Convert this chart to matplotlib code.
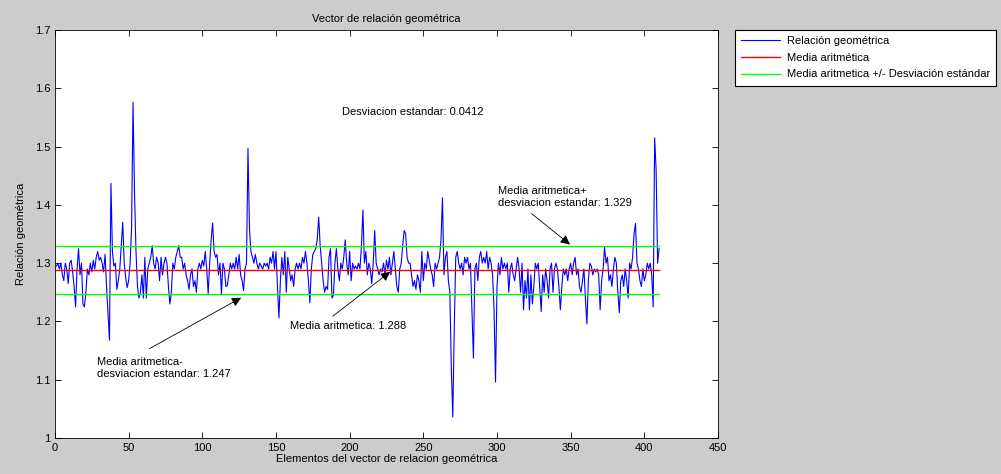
import matplotlib.pyplot as plt
import numpy as np

# relacion geometrica, elementos 1..410
rel_geom = [
    1.295, 1.30, 1.29, 1.30, 1.28, 1.27, 1.30, 1.29, 1.265, 1.30,
    1.305, 1.285, 1.26, 1.225, 1.29, 1.325, 1.28, 1.30, 1.23, 1.225,
    1.25, 1.29, 1.28, 1.30, 1.285, 1.305, 1.29, 1.31, 1.32, 1.305,
    1.31, 1.30, 1.285, 1.315, 1.26, 1.215, 1.168, 1.437, 1.32, 1.295,
    1.30, 1.255, 1.27, 1.29, 1.33, 1.37, 1.30, 1.275, 1.258, 1.27,
    1.30, 1.36, 1.576, 1.42, 1.32, 1.26, 1.24, 1.25, 1.28, 1.24,
    1.31, 1.24, 1.29, 1.30, 1.31, 1.33, 1.30, 1.29, 1.31, 1.30,
    1.27, 1.31, 1.28, 1.30, 1.31, 1.30, 1.26, 1.23, 1.25, 1.30,
    1.29, 1.31, 1.32, 1.33, 1.31, 1.31, 1.29, 1.30, 1.28, 1.27,
    1.255, 1.28, 1.29, 1.26, 1.27, 1.25, 1.29, 1.30, 1.29, 1.305,
    1.295, 1.32, 1.29, 1.248, 1.30, 1.34, 1.369, 1.32, 1.31, 1.315,
    1.28, 1.30, 1.247, 1.30, 1.29, 1.26, 1.262, 1.28, 1.30, 1.29,
    1.30, 1.29, 1.31, 1.29, 1.315, 1.28, 1.27, 1.253, 1.29, 1.30,
    1.497, 1.36, 1.32, 1.31, 1.30, 1.315, 1.30, 1.29, 1.30, 1.295,
    1.29, 1.30, 1.295, 1.30, 1.29, 1.31, 1.30, 1.32, 1.29, 1.32,
    1.26, 1.206, 1.27, 1.31, 1.28, 1.32, 1.25, 1.31, 1.29, 1.27,
    1.28, 1.26, 1.29, 1.30, 1.29, 1.30, 1.29, 1.31, 1.30, 1.32,
    1.30, 1.27, 1.232, 1.29, 1.315, 1.32, 1.325, 1.34, 1.379, 1.33,
    1.30, 1.27, 1.25, 1.26, 1.255, 1.31, 1.325, 1.24, 1.245, 1.30,
    1.325, 1.29, 1.27, 1.30, 1.29, 1.31, 1.34, 1.30, 1.28, 1.32,
    1.27, 1.30, 1.29, 1.295, 1.29, 1.30, 1.29, 1.33, 1.391, 1.30,
    1.32, 1.28, 1.30, 1.29, 1.265, 1.30, 1.356, 1.30, 1.29, 1.28,
    1.29, 1.285, 1.30, 1.28, 1.305, 1.29, 1.31, 1.28, 1.30, 1.32,
    1.29, 1.26, 1.25, 1.29, 1.30, 1.33, 1.356, 1.35, 1.31, 1.30,
    1.30, 1.28, 1.26, 1.27, 1.255, 1.28, 1.27, 1.25, 1.32, 1.27,
    1.30, 1.29, 1.32, 1.305, 1.29, 1.28, 1.26, 1.30, 1.29, 1.30,
    1.31, 1.34, 1.412, 1.28, 1.31, 1.32, 1.27, 1.25, 1.12, 1.036,
    1.19, 1.31, 1.32, 1.30, 1.29, 1.30, 1.28, 1.31, 1.30, 1.31,
    1.29, 1.30, 1.22, 1.137, 1.29, 1.30, 1.27, 1.31, 1.32, 1.30,
    1.31, 1.30, 1.32, 1.29, 1.31, 1.30, 1.28, 1.22, 1.096, 1.26,
    1.30, 1.28, 1.31, 1.29, 1.30, 1.29, 1.30, 1.25, 1.29, 1.30,
    1.28, 1.27, 1.29, 1.31, 1.29, 1.25, 1.30, 1.22, 1.27, 1.24,
    1.29, 1.22, 1.28, 1.23, 1.26, 1.30, 1.29, 1.30, 1.26, 1.217,
    1.28, 1.25, 1.29, 1.27, 1.24, 1.29, 1.30, 1.25, 1.29, 1.30,
    1.29, 1.26, 1.22, 1.26, 1.29, 1.28, 1.29, 1.27, 1.29, 1.30,
    1.28, 1.30, 1.31, 1.28, 1.29, 1.26, 1.25, 1.27, 1.29, 1.24,
    1.196, 1.27, 1.30, 1.295, 1.28, 1.29, 1.285, 1.29, 1.28, 1.22,
    1.27, 1.29, 1.327, 1.30, 1.31, 1.27, 1.28, 1.26, 1.29, 1.31,
    1.30, 1.25, 1.215, 1.27, 1.28, 1.26, 1.29, 1.27, 1.24, 1.30,
    1.29, 1.31, 1.35, 1.368, 1.30, 1.29, 1.27, 1.26, 1.29, 1.27,
    1.28, 1.30, 1.29, 1.30, 1.28, 1.225, 1.515, 1.46, 1.30, 1.325,
]
media = 1.288
desv = 0.0412
media_mas = 1.329
media_menos = 1.247

n = len(rel_geom)
x = np.arange(1, n + 1)

plt.rcParams['font.family'] = ['Liberation Sans', 'DejaVu Sans']
plt.rcParams['font.size'] = 8

fig = plt.figure(figsize=(10.01, 4.74), dpi=100, facecolor='#cccccc')
ax = fig.add_axes([0.0549, 0.0759, 0.6624, 0.8608])

ax.plot(x, rel_geom, color='#0000ff', lw=0.8, label='Relación geométrica')
ax.plot([1, n], [media, media], color='#ff0000', lw=1, label='Media aritmética')
ax.plot([1, n], [media_mas, media_mas], color='#00ff00', lw=1,
        label='Media aritmetica +/- Desviación estándar')
ax.plot([1, n], [media_menos, media_menos], color='#00ff00', lw=1)

ax.set_xlim(0, 450)
ax.set_ylim(1, 1.7)
ax.set_xticks(np.arange(0, 451, 50))
ax.set_yticks(np.arange(1, 1.71, 0.1))
ax.set_yticklabels(['1', '1.1', '1.2', '1.3', '1.4', '1.5', '1.6', '1.7'])
ax.tick_params(direction='in', top=True, right=True, length=4, width=0.6)
for s in ax.spines.values():
    s.set_linewidth(0.6)

ax.set_title('Vector de relación geométrica', fontsize=8, pad=6)
ax.set_xlabel('Elementos del vector de relacion geométrica', labelpad=1)
ax.set_ylabel('Relación geométrica', labelpad=6)

ax.text(195, 1.559, 'Desviacion estandar: %.4f' % desv, va='center')

arr = dict(arrowstyle='-|>', color='black', lw=0.6, mutation_scale=14)
ax.annotate('', xy=(351, media_mas), xytext=(322, 1.388), arrowprops=arr)
ax.text(300.5, 1.413, 'Media aritmetica+\ndesviacion estandar: %.3f' % media_mas,
        va='center', linespacing=1.25)

ax.annotate('', xy=(229, media), xytext=(187, 1.206), arrowprops=arr)
ax.text(159.5, 1.192, 'Media aritmetica: %.3f' % media, va='center')

ax.annotate('', xy=(128, 1.243), xytext=(62.5, 1.151), arrowprops=arr)
ax.text(28.5, 1.12, 'Media aritmetica-\ndesviacion estandar: %.3f' % media_menos,
        va='center', linespacing=1.25)

leg = fig.legend(loc='upper left', bbox_to_anchor=(0.7343, 0.9367), fontsize=8,
                 fancybox=False, edgecolor='black', framealpha=1,
                 handlelength=3.5, borderaxespad=0, labelspacing=0.6,
                 handletextpad=0.6, borderpad=0.55)
leg.get_frame().set_linewidth(0.8)

fig.savefig('out.png', dpi=100, facecolor=fig.get_facecolor())
